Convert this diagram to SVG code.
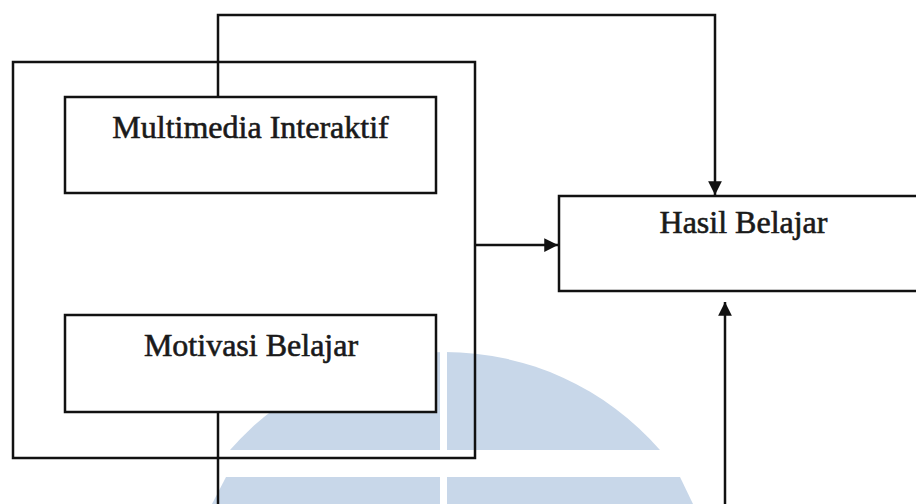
<svg xmlns="http://www.w3.org/2000/svg" width="916" height="504" viewBox="0 0 916 504">
<style>
.box{fill:#fff;stroke:#111;stroke-width:2.5}
.frame{fill:none;stroke:#111;stroke-width:2.5}
.wire{fill:none;stroke:#111;stroke-width:2.5}
.lbl{font-family:"Liberation Serif","Times New Roman",serif;font-size:32px;fill:#1a1a1a;stroke:#1a1a1a;stroke-width:0.6;text-anchor:middle}
.wm{fill:#c8d7e9}
</style>
<defs>
<marker id="ah" viewBox="0 0 10 10" refX="10" refY="5" markerWidth="6.5" markerHeight="5.5" markerUnits="strokeWidth" orient="auto">
<path d="M0,0 L10,5 L0,10 Z" fill="#111"/>
</marker>
</defs>
<rect width="916" height="504" fill="#fff"/>
<g id="watermark">
<path class="wm" d="M230,450 A285,285 0 0 1 660,450 Z"/>
<path class="wm" d="M226,477 L680,477 L693,504 L212,504 Z"/>
<rect x="440" y="340" width="7" height="164" fill="#fff"/>
</g>
<g id="group-frame">
<rect class="frame" x="13" y="62" width="462" height="396"/>
</g>
<g id="connectors">
<path class="wire" d="M218,97 V15 H715 V195" marker-end="url(#ah)"/>
<path class="wire" d="M475,245 H558" marker-end="url(#ah)"/>
<path class="wire" d="M218,412 V504"/>
<path class="wire" d="M725,504 V302" marker-end="url(#ah)"/>
</g>
<g id="node-multimedia">
<rect class="box" x="65" y="97" width="371" height="96"/>
<text class="lbl" x="250.5" y="138">Multimedia Interaktif</text>
</g>
<g id="node-motivasi">
<rect class="box" x="65" y="315" width="371" height="97"/>
<text class="lbl" x="251" y="356">Motivasi Belajar</text>
</g>
<g id="node-hasil">
<rect class="box" x="559" y="196" width="380" height="95"/>
<text class="lbl" x="743.5" y="233">Hasil Belajar</text>
</g>
</svg>
